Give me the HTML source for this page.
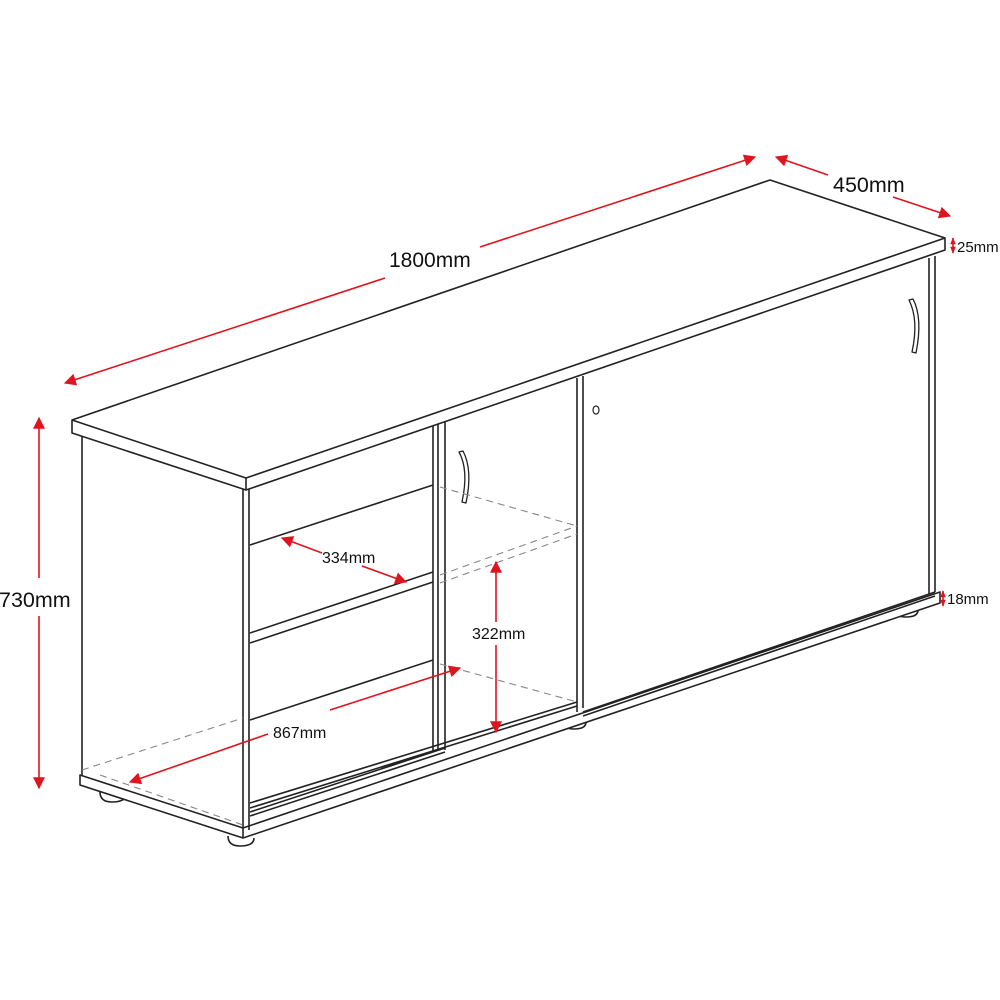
<!DOCTYPE html>
<html><head><meta charset="utf-8"><style>
html,body{margin:0;padding:0;background:#fff;width:1000px;height:1000px;overflow:hidden}
svg{display:block}
text{font-family:"Liberation Sans",Arial,sans-serif;fill:#111}
</style></head><body>
<svg width="1000" height="1000" viewBox="0 0 1000 1000" xmlns="http://www.w3.org/2000/svg">
<defs>
<marker id="a" viewBox="0 0 10 10" refX="9" refY="5" markerWidth="7" markerHeight="7" orient="auto-start-reverse" markerUnits="userSpaceOnUse">
<path d="M0,1 L10,5 L0,9 z" fill="#e0141e"/></marker>
<marker id="b" viewBox="0 0 10 10" refX="9" refY="5" markerWidth="16" markerHeight="12" orient="auto-start-reverse" markerUnits="userSpaceOnUse">
<path d="M0,0 L10,5 L0,10 z" fill="#e0141e"/></marker>
</defs>
<g fill="none" stroke="#222" stroke-width="1.6" stroke-linejoin="round">
<path d="M100,792 q0,10 12,10 q14,0 14,-8" fill="#fff"/>
<path d="M228,836 q0,10 12,10 q14,0 14,-8" fill="#fff"/>
<path d="M562,720 q0,9 12,9 q12,0 12,-7" fill="#fff"/>
<path d="M894,608 q0,9 12,9 q12,0 12,-7" fill="#fff"/>
<path d="M80,775 L243,828 L940,592 L940,603 L243,838 L80,785 Z" fill="#fff"/>
<line x1="82" y1="433" x2="82" y2="775"/>
<line x1="243" y1="489" x2="243" y2="838"/>
<line x1="249" y1="487" x2="249" y2="830"/>
<line x1="929" y1="258" x2="929" y2="594"/>
<line x1="935" y1="256" x2="935" y2="592"/>
<line x1="433" y1="424" x2="433" y2="752"/>
<line x1="438" y1="423" x2="438" y2="751"/>
<line x1="445" y1="421" x2="445" y2="750"/>
<line x1="577" y1="378" x2="577" y2="712"/>
<line x1="583" y1="376" x2="583" y2="708"/>
<path d="M250,545 L433,485"/>
<path d="M250,633 L433,572 M250,643 L433,582"/>
<path d="M250,720 L433,660"/>
<path d="M250,808 L577,706 M250,803 L577,702 M250,812 L445,748 M250,816 L445,752"/>
<path d="M583,712 L935,592 M583,716 L935,596"/>
<path d="M72,420 L770,180 L945,238 L945,250 L246,490 L72,433 Z" fill="#fff"/>
<path d="M72,420 L246,478 L945,238 M246,478 L246,490"/>
<path d="M459,452 q10,18 3,50 l4,1 q7,-33 -3,-52 z" stroke-width="1.3"/>
<path d="M909,300 q10,20 3,52 l4,1 q7,-35 -3,-54 z" stroke-width="1.3"/>
<ellipse cx="596" cy="410" rx="3" ry="4" stroke-width="1.2"/>
</g>
<g stroke="#888" stroke-width="1.1" stroke-dasharray="7,5" fill="none">
<path d="M440,487 L577,526"/>
<path d="M440,575 L577,526 M440,583 L577,534"/>
<path d="M440,664 L577,702"/>
<path d="M82,770 L243,718"/>
<path d="M100,775 L243,825"/>
</g>
<g stroke="#e0141e" stroke-width="1.6" fill="none">
<line x1="65" y1="383" x2="385" y2="278" marker-start="url(#b)"/>
<line x1="480" y1="247" x2="755" y2="157" marker-end="url(#b)"/>
<line x1="776" y1="157" x2="828" y2="175" marker-start="url(#b)"/>
<line x1="893" y1="197" x2="950" y2="216" marker-end="url(#b)"/>
<line x1="39" y1="418" x2="39" y2="578" marker-start="url(#b)"/>
<line x1="39" y1="616" x2="39" y2="788" marker-end="url(#b)"/>
<line x1="282" y1="538" x2="322" y2="553" marker-start="url(#b)"/>
<line x1="362" y1="566" x2="406" y2="582" marker-end="url(#b)"/>
<line x1="496" y1="562" x2="496" y2="622" marker-start="url(#b)"/>
<line x1="496" y1="645" x2="496" y2="732" marker-end="url(#b)"/>
<line x1="130" y1="782" x2="268" y2="734" marker-start="url(#b)"/>
<line x1="330" y1="710" x2="460" y2="668" marker-end="url(#b)"/>
<line x1="953" y1="238" x2="953" y2="253" marker-start="url(#a)" marker-end="url(#a)"/>
<line x1="943" y1="591" x2="943" y2="606" marker-start="url(#a)" marker-end="url(#a)"/>
</g>
<text x="389" y="267" font-size="21">1800mm</text>
<text x="833" y="192" font-size="21.5">450mm</text>
<text x="957" y="252" font-size="15">25mm</text>
<text x="-1" y="607" font-size="21.5">730mm</text>
<text x="947" y="604" font-size="15">18mm</text>
<text x="322" y="563" font-size="16">334mm</text>
<text x="472" y="639" font-size="16">322mm</text>
<text x="273" y="738" font-size="16">867mm</text>
</svg>
</body></html>
